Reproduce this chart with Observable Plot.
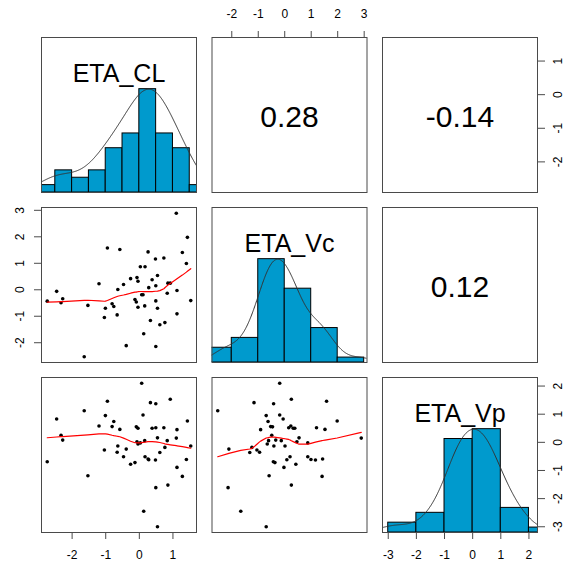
<!DOCTYPE html>
<html>
<head>
<meta charset="utf-8">
<script src="https://cdn.jsdelivr.net/npm/d3@7"></script>
<script src="https://cdn.jsdelivr.net/npm/@observablehq/plot@0.6"></script>
<style>
  body { margin: 0; background: white; }
  #chart { position: relative; width: 565px; height: 567px; background: white; }
</style>
</head>
<body>
<div id="chart"></div>
<script>
// ---- data ----
const varNames = ["ETA_CL", "ETA_Vc", "ETA_Vp"];
const ETA_CL = [-2.74,-2.46,-2.33,-2.28,-1.64,-1.53,-1.20,-1.04,-1.01,-0.95,-0.81,-0.76,-0.66,-0.64,-0.58,-0.47,-0.39,-0.26,-0.13,-0.09,-0.07,-0.04,-0.04,0.03,0.07,0.11,0.13,0.16,0.17,0.26,0.28,0.33,0.38,0.48,0.49,0.49,0.49,0.54,0.54,0.61,0.73,0.76,0.83,0.85,0.92,1.10,1.12,1.12,1.28,1.40,1.43,1.53];
const ETA_Vc = [-0.43,-0.06,-0.49,-0.34,-2.53,-0.59,0.23,-1.05,-0.70,1.58,-0.53,-0.63,-0.95,0.01,1.52,0.20,-2.11,0.42,-0.37,-0.46,0.46,0.32,-0.66,0.87,-0.19,-0.19,-1.66,-0.61,0.87,1.43,0.08,-1.16,0.38,1.16,-2.14,-0.42,0.15,0.54,-0.70,-1.32,1.20,-1.24,-0.13,0.25,0.25,2.89,-0.03,-0.91,1.41,0.99,1.98,-0.41];
const ETA_Vp = [-0.69,0.83,0.25,0.08,1.12,-1.19,0.58,-0.27,0.95,1.46,0.56,0.74,-0.35,-0.13,0.46,-0.51,-0.24,-0.78,-0.72,0.55,0.02,0.50,-0.06,-0.02,2.10,0.97,-2.45,0.06,-0.51,-0.59,-0.62,1.41,0.50,-0.63,-1.61,1.37,0.52,0.16,-3.00,-0.36,0.52,-0.18,0.06,-1.52,1.53,0.15,-0.89,0.45,-1.21,-0.61,0.76,-0.13];
const breaksCL = [-3,-2.5,-2,-1.5,-1,-0.5,0,0.5,1,1.5,2];
const breaksVc = [-3,-2,-1,0,1,2,3];
const breaksVp = [-3,-2,-1,0,1,2,3];
const ticksCL = [-2,-1,0,1];
const ticksVc = [-2,-1,0,1,2,3];
const ticksVp = [-3,-2,-1,0,1,2];
const corrCL_Vc = "0.28";
const corrCL_Vp = "-0.14";
const corrVc_Vp = "0.12";

const vars = [ETA_CL, ETA_Vc, ETA_Vp];
const breaks = [breaksCL, breaksVc, breaksVp];
const ticks = [ticksCL, ticksVc, ticksVp];
const corr = {"0,1": corrCL_Vc, "0,2": corrCL_Vp, "1,2": corrVc_Vp};
const rows = ETA_CL.map((d, i) => ({v0: ETA_CL[i], v1: ETA_Vc[i], v2: ETA_Vp[i]}));

// ---- statistics (as R's pairs.panels does) ----
const ext = v => { const [a, b] = d3.extent(v); const d = (b - a) * 0.04; return [a - d, b + d]; };

function histBins(v, br) {
  const counts = br.slice(1).map(() => 0);
  for (const x of v) {
    for (let k = 0; k < counts.length; k++) {
      if (x <= br[k + 1] && (x > br[k] || (k === 0 && x >= br[0]))) { counts[k]++; break; }
    }
  }
  const m = d3.max(counts);
  return counts.map((c, k) => ({x1: br[k], x2: br[k + 1], y: c / m}));
}

function density(v) {
  const n = v.length, sd = d3.deviation(v);
  const iqr = d3.quantile(v, 0.75) - d3.quantile(v, 0.25);
  const bw = 1.06 * Math.min(sd, iqr / 1.34) * Math.pow(n, -0.2) * 1.2;
  const [lo, hi] = d3.extent(v);
  const from = lo - 3 * bw, to = hi + 3 * bw;
  const pts = d3.range(512).map(i => {
    const t = from + (to - from) * i / 511;
    return {x: t, y: d3.sum(v, xi => Math.exp(-0.5 * ((t - xi) / bw) ** 2))};
  });
  const m = d3.max(pts, p => p.y);
  pts.forEach(p => p.y /= m);
  return pts;
}

function lowess(xs, ys, f = 2 / 3, iter = 3) {
  const n = xs.length;
  const order = d3.range(n).sort((a, b) => xs[a] - xs[b]);
  const x = order.map(i => xs[i]), y = order.map(i => ys[i]);
  const ns = Math.max(2, Math.min(n, Math.floor(f * n + 1e-7)));
  const rw = new Array(n).fill(1), out = new Array(n).fill(0), w = new Array(n).fill(0);
  const range = x[n - 1] - x[0];
  function lowest(xv, nleft, nright, userw) {
    const h = Math.max(xv - x[nleft], x[nright] - xv);
    const h9 = 0.999 * h, h1 = 0.001 * h;
    let a = 0, j = nleft;
    while (j < n) {
      w[j] = 0;
      const r = Math.abs(x[j] - xv);
      if (r <= h9) {
        w[j] = r <= h1 ? 1 : Math.pow(1 - Math.pow(r / h, 3), 3);
        if (userw) w[j] *= rw[j];
        a += w[j];
      } else if (x[j] > xv) break;
      j++;
    }
    const nrt = j - 1;
    if (a <= 0) return null;
    for (let k = nleft; k <= nrt; k++) w[k] /= a;
    if (h > 0) {
      let a2 = 0;
      for (let k = nleft; k <= nrt; k++) a2 += w[k] * x[k];
      let b = xv - a2, c = 0;
      for (let k = nleft; k <= nrt; k++) c += w[k] * (x[k] - a2) ** 2;
      if (Math.sqrt(c) > 0.001 * range) {
        b /= c;
        for (let k = nleft; k <= nrt; k++) w[k] *= (b * (x[k] - a2) + 1);
      }
    }
    let s = 0;
    for (let k = nleft; k <= nrt; k++) s += w[k] * y[k];
    return s;
  }
  for (let it = 1; it <= iter + 1; it++) {
    let nleft = 0, nright = ns - 1;
    for (let i = 0; i < n; i++) {
      while (nright < n - 1) {
        const d1 = x[i] - x[nleft], d2 = x[nright + 1] - x[i];
        if (d1 <= d2) break;
        nleft++; nright++;
      }
      const v = lowest(x[i], nleft, nright, it > 1);
      out[i] = v === null ? y[i] : v;
    }
    if (it > iter) break;
    const absr = y.map((yi, i) => Math.abs(yi - out[i]));
    const sc = d3.mean(absr), cmad = 6 * d3.median(absr);
    if (cmad < 1e-7 * sc) break;
    const c9 = 0.999 * cmad, c1 = 0.001 * cmad;
    for (let i = 0; i < n; i++) {
      const r = absr[i];
      rw[i] = r <= c1 ? 1 : r > c9 ? 0 : (1 - (r / cmad) ** 2) ** 2;
    }
  }
  return x.map((xi, i) => ({x: xi, y: out[i]}));
}

// ---- layout ----
const W = 565, H = 567, S = 155;
const colL = [41, 211.5, 382], rowT = [37, 207, 377];
const font = "'Liberation Sans', Arial, Helvetica, sans-serif";
const lineCol = "#4a4a4a";
const fmt = d => String(d);

function base(r, c) {
  return {
    width: W, height: H,
    marginLeft: colL[c], marginRight: W - colL[c] - S,
    marginTop: rowT[r], marginBottom: H - rowT[r] - S,
    style: {position: "absolute", left: "0px", top: "0px", background: "transparent",
            overflow: "visible", fontFamily: font, fontSize: "12px", color: "black"}
  };
}

const axisX = (anchor, t, pad) => Plot.axisX({anchor, ticks: t, tickFormat: fmt, tickSize: 7, tickPadding: pad, stroke: lineCol, label: null, fontSize: 12});
const axisY = (anchor, t, pad) => Plot.axisY({anchor, ticks: t, tickFormat: fmt, tickSize: 7, tickPadding: pad, tickRotate: -90,
  lineAnchor: anchor === "right" ? "top" : "bottom", stroke: lineCol, label: null, fontSize: 12});

const chart = document.getElementById("chart");

for (let r = 0; r < 3; r++) {
  for (let c = 0; c < 3; c++) {
    const marks = [];
    const opts = base(r, c);
    opts.x = {domain: ext(vars[c]), axis: null};
    if (r === c) {
      opts.y = {domain: [0, 1.5], axis: null};
      marks.push(Plot.rect(histBins(vars[c], breaks[c]), {x1: "x1", x2: "x2", y1: 0, y2: "y", fill: "#009ACD", stroke: "black", strokeWidth: 1, clip: true}));
      marks.push(Plot.line(density(vars[c]), {x: "x", y: "y", stroke: "#333", strokeWidth: 1, clip: true}));
      marks.push(Plot.text([varNames[c]], {text: d => d, frameAnchor: "top", dy: 27, fontSize: 25, fill: "black"}));
    } else if (r < c) {
      opts.y = {domain: ext(vars[r]), axis: null};
      marks.push(Plot.text([corr[r + "," + c]], {text: d => d, frameAnchor: "middle", dy: 2, fontSize: 30, fill: "black"}));
    } else {
      opts.y = {domain: ext(vars[r]), axis: null};
      marks.push(Plot.dot(rows, {x: "v" + c, y: "v" + r, r: 1.8, fill: "black", stroke: null}));
      marks.push(Plot.line(lowess(vars[c], vars[r]), {x: "x", y: "y", stroke: "red", strokeWidth: 1.2, clip: true}));
    }
    marks.push(Plot.frame({stroke: lineCol}));
    if (r === 0 && c === 1) marks.push(axisX("top", ticks[1], 13));
    if (r === 0 && c === 2) marks.push(axisY("right", ticks[0], 9));
    if (r === 1 && c === 0) marks.push(axisY("left", ticks[1], 11));
    if (r === 2 && c === 0) marks.push(axisX("bottom", ticks[0], 11));
    if (r === 2 && c === 2) marks.push(axisX("bottom", ticks[2], 11));
    opts.marks = marks;
    chart.appendChild(Plot.plot(opts));
  }
}
// right-hand axis of the last row shows ETA_Vp values on the diagonal panel
{
  const opts = base(2, 2);
  opts.x = {domain: ext(ETA_Vp), axis: null};
  opts.y = {domain: ext(ETA_Vp), axis: null};
  opts.marks = [axisY("right", ticksVp, 9)];
  chart.appendChild(Plot.plot(opts));
}
</script>
</body>
</html>
